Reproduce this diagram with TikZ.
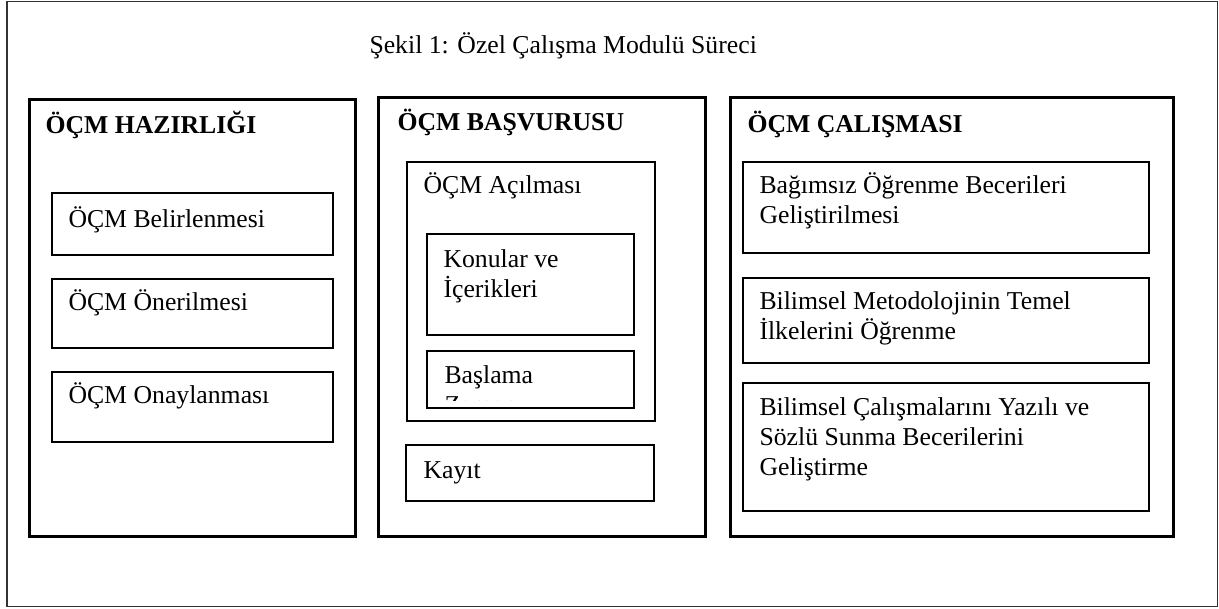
\documentclass[tikz,border=0pt]{standalone}
\usepackage{fontspec}
\setmainfont{Liberation Serif}

\tikzset{every picture/.style={line width=0.75pt}}
\tikzset{
  outerframe/.style={draw=black!80, line width=1pt},
  stagebox/.style={draw=black, line width=2.25pt},
  stepbox/.style={draw=black, line width=1.3pt},
  boxtext/.style={anchor=base west, inner sep=0pt, align=left, font=\fontsize{19.3}{22.5}\selectfont},
  headtext/.style={boxtext, font=\fontsize{19.3}{22.5}\selectfont\bfseries}
}

\begin{document}
\begin{tikzpicture}[x=0.75pt,y=0.75pt,yscale=-1,xscale=1]
\useasboundingbox (0,0) rectangle (1219,608);

%Shape: Rectangle [outer frame]
\draw [outerframe] (7,1.5) rectangle (1217.5,606.5) ;
% Text Node
\draw (369,53) node [boxtext] (title) {Şekil 1: Özel Çalışma Modulü Süreci};

%Shape: Rectangle [hazirlik]
\draw [stagebox] (29,99) rectangle (355,536) ;
%Shape: Rectangle
\draw [stepbox] (52,193) rectangle (333,255) ;
%Shape: Rectangle
\draw [stepbox] (52,279) rectangle (333,348) ;
%Shape: Rectangle
\draw [stepbox] (52,372) rectangle (333,442) ;

%Shape: Rectangle [basvuru]
\draw [stagebox] (378,97) rectangle (705,536) ;
%Shape: Rectangle
\draw [stepbox] (407,162) rectangle (655,421) ;
%Shape: Rectangle
\draw [stepbox] (427,234) rectangle (634,335) ;
%Shape: Rectangle
\draw [stepbox] (427,351) rectangle (634,408) ;
%Shape: Rectangle
\draw [stepbox] (406,445) rectangle (654,501) ;

%Shape: Rectangle [calisma]
\draw [stagebox] (730,97) rectangle (1173,536) ;
%Shape: Rectangle
\draw [stepbox] (743,162) rectangle (1149,253) ;
%Shape: Rectangle
\draw [stepbox] (743,278) rectangle (1149,363) ;
%Shape: Rectangle
\draw [stepbox] (743,383) rectangle (1149,511) ;

% base of a multi-line node = baseline of its last line
% Text Node
\draw (45,133) node [headtext] (hazirlik) {ÖÇM HAZIRLIĞI};
% Text Node
\draw (68,227) node [boxtext] (belirleme) {ÖÇM Belirlenmesi};
% Text Node
\draw (68,310) node [boxtext] (oneri) {ÖÇM Önerilmesi};
% Text Node
\draw (68,403) node [boxtext] (onay) {ÖÇM Onaylanması};

% Text Node
\draw (397,130) node [headtext] (basvuru) {ÖÇM BAŞVURUSU};
% Text Node
\draw (423,193) node [boxtext] (acilma) {ÖÇM Açılması};
% Text Node
\draw (443,297) node [boxtext] (konular) {Konular ve\\İçerikleri};
% Text Node (cut off inside its box)
\begin{scope}
\clip (428,352) rectangle (633,400);
\draw (444,413) node [boxtext] (baslama) {Başlama\\Zamanı};
\end{scope}
% Text Node
\draw (423,478) node [boxtext] (kayit) {Kayıt};

% Text Node
\draw (747,132) node [headtext] (calisma) {ÖÇM ÇALIŞMASI};
% Text Node
\draw (759,223) node [boxtext] (bagimsiz) {Bağımsız Öğrenme Becerileri\\Geliştirilmesi};
% Text Node
\draw (759,339) node [boxtext] (metodoloji) {Bilimsel Metodolojinin Temel\\İlkelerini Öğrenme};
% Text Node
\draw (759,475) node [boxtext] (sunma) {Bilimsel Çalışmalarını Yazılı ve\\Sözlü Sunma Becerilerini\\Geliştirme};

\end{tikzpicture}
\end{document}
